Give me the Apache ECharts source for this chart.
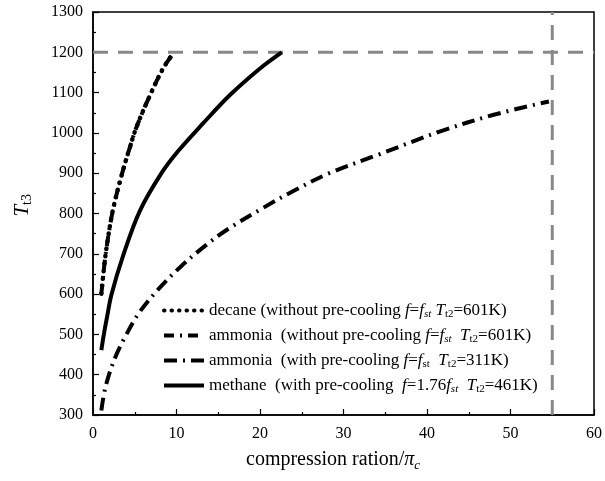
<!DOCTYPE html>
<html>
<head>
<meta charset="utf-8">
<script src="https://cdn.jsdelivr.net/npm/echarts@6/dist/echarts.min.js"></script>
<style>html,body{margin:0;padding:0;background:#fff}#c{width:605px;height:481px}</style>
</head>
<body>
<div id="c"></div>
<script>
// ---- data ----
const decaneX = [1, 1.4, 1.8, 2.4, 3.4, 4.4, 5.2, 6.8, 8.4, 9.7];
const decaneY = [601, 680, 740, 810, 893, 963, 1014, 1092, 1160, 1200];
const ammoniaNoPreX = [1, 1.4, 1.8, 2.4, 3.4, 4.4, 5.2, 6.8, 8.4, 9.7];
const ammoniaNoPreY = [601, 680, 740, 810, 893, 963, 1014, 1092, 1160, 1200];
const ammoniaPreX = [1, 1.5, 2.6, 4, 5.6, 8, 10.5, 13.2, 16, 20.3, 24, 28.3, 34.3, 41.5, 48, 54.6];
const ammoniaPreY = [311, 370, 440, 500, 556, 616, 668, 716, 759, 813, 856, 900, 947, 1003, 1045, 1078];
const methaneX = [1, 1.3, 1.7, 2.2, 3.6, 5.6, 8.2, 10.2, 13.2, 16.4, 20, 22.6];
const methaneY = [461, 500, 545, 598, 695, 806, 900, 955, 1024, 1094, 1160, 1200];
const Tmax = 1200;
const Pmax = 55;
const xTicks = [0, 10, 20, 30, 40, 50, 60];
const yTicks = [300, 400, 500, 600, 700, 800, 900, 1000, 1100, 1200, 1300];
const seriesNames = ['decane', 'ammoniaNoPre', 'ammoniaPre', 'methane'];
const legendLabels = [
  'decane (without pre-cooling {i|f}={i|f}{si|st} {i|T}{s|t2}=601K)',
  'ammonia  (without pre-cooling {i|f}={i|f}{si|st}  {i|T}{s|t2}=601K)',
  'ammonia  (with pre-cooling {i|f}={i|f}{s|st}  {i|T}{s|t2}=311K)',
  'methane  (with pre-cooling  {i|f}=1.76{i|f}{si|st}  {i|T}{s|t2}=461K)'
];

const F = 'Liberation Serif, Times New Roman, serif';
const pair = (xs, ys) => xs.map((x, i) => [x, ys[i]]);
const rich = {
  i: {fontFamily: F, fontStyle: 'italic', fontSize: 17, lineHeight: 19, color: '#000'},
  si: {fontFamily: F, fontStyle: 'italic', fontSize: 11, lineHeight: 8, verticalAlign: 'bottom', color: '#000'},
  s: {fontFamily: F, fontSize: 11, lineHeight: 8, verticalAlign: 'bottom', color: '#000'}
};

const chart = echarts.init(document.getElementById('c'), null, {renderer: 'canvas'});
const lineCommon = {type: 'line', showSymbol: false, symbol: 'none', smooth: 0.35, z: 3};
chart.setOption({
  animation: false,
  backgroundColor: '#fff',
  grid: {left: 93, right: 10, top: 12, bottom: 66, show: true, borderColor: '#000', borderWidth: 1.5},
  legend: {
    orient: 'vertical', left: 157, top: 296, itemWidth: 40, itemHeight: 12, itemGap: 6,
    data: seriesNames,
    itemStyle: {opacity: 0},
    lineStyle: {width: 4},
    formatter: name => legendLabels[seriesNames.indexOf(name)],
    textStyle: {fontFamily: F, fontSize: 17, color: '#000', lineHeight: 19, rich: rich}
  },
  xAxis: {
    type: 'value', min: 0, max: 60, interval: 10,
    axisLine: {onZero: false, lineStyle: {color: '#000', width: 1.5}},
    axisTick: {inside: true, length: 6, lineStyle: {color: '#000', width: 1.2}},
    minorTick: {show: true, splitNumber: 2, length: 3, lineStyle: {color: '#000', width: 1.2}},
    splitLine: {show: false},
    axisLabel: {fontFamily: F, fontSize: 16, color: '#000', margin: 11,
      formatter: v => xTicks.includes(v) ? String(v) : ''}
  },
  yAxis: {
    type: 'value', min: 300, max: 1300, interval: 100,
    axisLine: {onZero: false, lineStyle: {color: '#000', width: 1.5}},
    axisTick: {inside: true, length: 6, lineStyle: {color: '#000', width: 1.2}},
    minorTick: {show: true, splitNumber: 2, length: 3, lineStyle: {color: '#000', width: 1.2}},
    splitLine: {show: false},
    axisLabel: {fontFamily: F, fontSize: 16, color: '#000', margin: 10,
      formatter: v => yTicks.includes(v) ? String(v) : ''}
  },
  graphic: [
    {type: 'text', left: 12, top: 194, rotation: Math.PI / 2, style: {
      text: '{i|T}{s|t3}', rich: {
        i: {fontFamily: F, fontStyle: 'italic', fontSize: 21, lineHeight: 24, color: '#000'},
        s: {fontFamily: F, fontSize: 14, lineHeight: 10, verticalAlign: 'bottom', color: '#000'}
      }}},
    {type: 'text', left: 246, top: 448, style: {
      text: 'compression ration/{i|π}{s|c}', fontFamily: F, fontSize: 20, lineHeight: 24, fill: '#000', rich: {
        i: {fontFamily: F, fontStyle: 'italic', fontSize: 20, lineHeight: 24, color: '#000'},
        s: {fontFamily: F, fontStyle: 'italic', fontSize: 13, lineHeight: 10, verticalAlign: 'bottom', color: '#000'}
      }}}
  ],
  series: [
    Object.assign({}, lineCommon, {name: 'decane', data: pair(decaneX, decaneY),
      lineStyle: {color: '#000', width: 4.5, type: [0.5, 7], cap: 'round'}, itemStyle: {color: '#000'}}),
    Object.assign({}, lineCommon, {name: 'ammoniaNoPre', data: pair(ammoniaNoPreX, ammoniaNoPreY),
      lineStyle: {color: '#000', width: 4, type: [10, 6, 2, 6]}, itemStyle: {color: '#000'}}),
    Object.assign({}, lineCommon, {name: 'ammoniaPre', data: pair(ammoniaPreX, ammoniaPreY),
      lineStyle: {color: '#000', width: 4, type: [13, 6, 2, 6]}, itemStyle: {color: '#000'}}),
    Object.assign({}, lineCommon, {name: 'methane', data: pair(methaneX, methaneY),
      lineStyle: {color: '#000', width: 4, type: 'solid'}, itemStyle: {color: '#000'}}),
    {type: 'line', name: 'Tmax', data: [[0, Tmax], [60, Tmax]], symbol: 'none', z: 2, silent: true,
      lineStyle: {color: '#888', width: 3, type: [15, 10]}},
    {type: 'line', name: 'Pmax', data: [[Pmax, 300], [Pmax, 1300]], symbol: 'none', z: 2, silent: true,
      lineStyle: {color: '#888', width: 3, type: [15, 10]},
      markPoint: {symbol: 'none', data: [
        {coord: [Pmax, 1242], label: {show: true, position: 'left', distance: 0, offset: [-14, 0],
          formatter: '{i|T}{s|max}', rich: {
            i: {fontFamily: F, fontStyle: 'italic', fontSize: 18, lineHeight: 22, color: '#000'},
            s: {fontFamily: F, fontStyle: 'italic', fontSize: 12, lineHeight: 9, verticalAlign: 'bottom', color: '#000'}}}},
        {coord: [Pmax, 935], label: {show: true, position: 'left', distance: 0, offset: [-4, 0],
          formatter: '{i|P}{s|max}', rich: {
            i: {fontFamily: F, fontStyle: 'italic', fontSize: 18, lineHeight: 22, color: '#000'},
            s: {fontFamily: F, fontStyle: 'italic', fontSize: 12, lineHeight: 9, verticalAlign: 'bottom', color: '#000'}}}}
      ]}}
  ]
});
</script>
</body>
</html>
